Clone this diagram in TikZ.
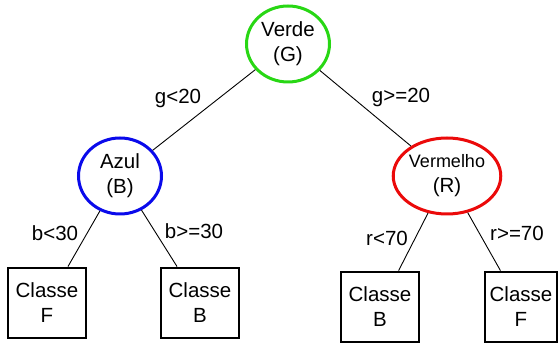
\documentclass[tikz,border=0pt]{standalone}
\usepackage{fontspec}
\setmainfont{Liberation Sans}
\usetikzlibrary{shapes.geometric}

\definecolor{verdeG}{RGB}{40,215,20}
\definecolor{azulB}{RGB}{10,10,235}
\definecolor{vermelhoR}{RGB}{235,10,10}

\tikzset{
  attr/.style={ellipse, draw=#1, line width=3pt, inner sep=0pt,
    minimum width=83pt, minimum height=76pt, align=center,
    font=\fontsize{20.5}{25}\selectfont},
  classe/.style={rectangle, draw=black, line width=2.8pt, inner sep=0pt,
    minimum width=78pt, minimum height=70pt, align=center,
    font=\fontsize{20.5}{25}\selectfont},
  cond/.style={anchor=base, inner sep=0pt, font=\fontsize{20.5}{24}\selectfont}
}

\begin{document}
\begin{tikzpicture}[x=1pt, y=-1pt]
    \useasboundingbox (0,0) rectangle (560,344);
    % atributos
    \node[attr=verdeG] (verde) at (288,44) {Verde\\(G)};
    \node[attr=azulB] (azul) at (120,176) {Azul\\(B)};
    \node[attr=vermelhoR, minimum width=85pt,
      font=\fontsize{18}{25}\selectfont] (vermelho) at (447,176) {Vermelho\\{\fontsize{20.5}{25}\selectfont(R)}};
    % folhas
    \node[classe] (classeF1) at (47,303) {Classe\\F};
    \node[classe] (classeB1) at (200,303) {Classe\\B};
    \node[classe] (classeB2) at (380,307) {Classe\\B};
    \node[classe, minimum width=72pt] (classeF2) at (521,307) {Classe\\F};
    % ramos
    \draw[line width=0.9pt] (verde) -- (azul);
    \draw[line width=0.9pt] (verde) -- (vermelho);
    \draw[line width=0.9pt] (azul) -- (classeF1);
    \draw[line width=0.9pt] (azul) -- (classeB1);
    \draw[line width=0.9pt] (vermelho) -- (classeB2);
    \draw[line width=0.9pt] (vermelho) -- (classeF2);
    % condicoes
    \node[cond] (g1) at (178,104) {g<20};
    \node[cond] (g2) at (401,103) {g>=20};
    \node[cond] (b1) at (55,241) {b<30};
    \node[cond] (b2) at (194,239) {b>=30};
    \node[cond] (r1) at (387,246) {r<70};
    \node[cond] (r2) at (517,241) {r>=70};
\end{tikzpicture}
\end{document}
